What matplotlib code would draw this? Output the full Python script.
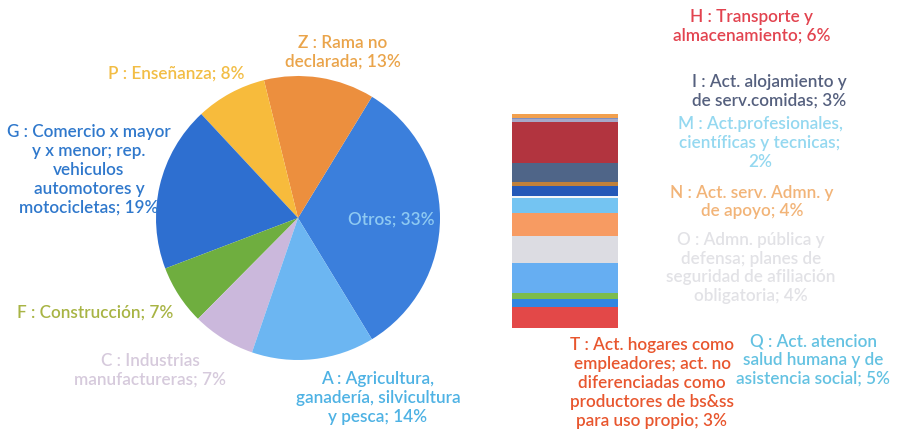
import matplotlib.pyplot as plt
import numpy as np

# Pie part (counterclockwise from the right, "Otros" first)
pie_names = ["Otros", "Z : Rama no\ndeclarada", "P : Enseñanza", 
             "G : Comercio x mayor\ny x menor; rep.\nvehiculos\nautomotores y\nmotocicletas",
             "F : Construcción", "C : Industrias\nmanufactureras",
             "A : Agricultura,\nganadería, silvicultura\ny pesca"]
pie_values = [None, 12.6, 8.1, 18.9, 6.8, 7.2, 14.0]
pie_colors = ["#3b7fdc", "#ec8f3e", "#f7bb3c", "#2e6fd0", "#6fae3f", "#cbb8dc", "#6cb6f2"]
pie_text_colors = ["#8fcaf2", "#eaa44a", "#f2bd45", "#2f78cc", "#a8b444", "#d6cadc", "#4eb2e4"]

# Bar part = breakdown of "Otros", top to bottom
bar_names = ["B", "D", "E", "H", "I", "J", "K", "L", "M", "N", "O", "Q", "R", "S", "T"]
bar_values = [0.6, 0.2, 0.4, 6.2, 2.9, 0.75, 1.5, 0.2, 2.3, 3.6, 4.1, 4.6, 0.8, 1.3, 3.2]
bar_colors = ["#f2a04e", "#7f8fc0", "#a6a8c8", "#b2343f", "#4f6588", "#c0803a", "#2458b8",
              "#f4f6f8", "#74c4f2", "#f79b62", "#dcdce2", "#66aef2", "#7cbc4c", "#3285e0", "#e34848"]

pie_values[0] = sum(bar_values)

fig = plt.figure(figsize=(9.01, 4.36), dpi=100)
plt.rcParams['font.family'] = ['Lato', 'DejaVu Sans']

W, H = 901, 436
# pie axes: center (298, 218), radius 142 px
cx, cy, r = 298, 218, 142
ax_pie = fig.add_axes([(cx - r) / W, (H - cy - r) / H, 2 * r / W, 2 * r / H])
start = -pie_values[0] / sum(pie_values) * 180
ax_pie.pie(pie_values, colors=pie_colors, startangle=start, counterclock=True,
           wedgeprops=dict(linewidth=0))
ax_pie.set_xlim(-1, 1)
ax_pie.set_ylim(-1, 1)

# bar axes: x 512..618, y 114..328 px
ax_bar = fig.add_axes([512 / W, (H - 328) / H, 106 / W, 214 / H])
bottoms = np.concatenate([[0], np.cumsum(bar_values)[:-1]])
ax_bar.bar(0, bar_values, bottom=bottoms, width=1, color=bar_colors, linewidth=0)
ax_bar.set_xlim(-0.5, 0.5)
ax_bar.set_ylim(sum(bar_values), 0)
ax_bar.axis("off")

# label layer in pixel coordinates
ax_txt = fig.add_axes([0, 0, 1, 1])
ax_txt.set_xlim(0, W)
ax_txt.set_ylim(H, 0)
ax_txt.axis("off")

def pct(v):
    return int(v / sum(pie_values) * 100 + 0.5)

def label(x, y, s, color):
    ax_txt.text(x, y, s, color=color, ha="center", va="center", fontsize=12.3,
                fontweight="semibold", linespacing=1.22)

# pie labels (centre positions)
pie_pos = [(391, 220), (343, 52), (176, 74), (89, 170), (95, 313), (150, 370), (378, 398)]
for name, v, col, (x, y) in zip(pie_names, pie_values, pie_text_colors, pie_pos):
    label(x, y, f"{name}; {pct(v)}%", col)

# bar labels
bar_labels = {
    "H": ("H : Transporte y\nalmacenamiento", (752, 26), "#e2434f"),
    "I": ("I : Act. alojamiento y\nde serv.comidas", (769, 91), "#55607e"),
    "M": ("M : Act.profesionales,\ncientíficas y tecnicas;\n", (760, 143), "#94d8f0"),
    "N": ("N : Act. serv. Admn. y\nde apoyo", (752, 202), "#f2b478"),
    "O": ("O : Admn. pública y\ndefensa; planes de\nseguridad de afiliación\nobligatoria", (751, 268), "#e2e2e6"),
    "T": ("T : Act. hogares como\nempleadores; act. no\ndiferenciadas como\nproductores de bs&ss\npara uso propio", (652, 383), "#e8562e"),
    "Q": ("Q : Act. atencion\nsalud humana y de\nasistencia social", (813, 360), "#64c2e2"),
}
for name, v in zip(bar_names, bar_values):
    if name in bar_labels:
        text, (x, y), col = bar_labels[name]
        if text.endswith("\n"):
            s = f"{text}{pct(v)}%"
        else:
            s = f"{text}; {pct(v)}%"
        label(x, y, s, col)

fig.savefig("out.png", dpi=100)
